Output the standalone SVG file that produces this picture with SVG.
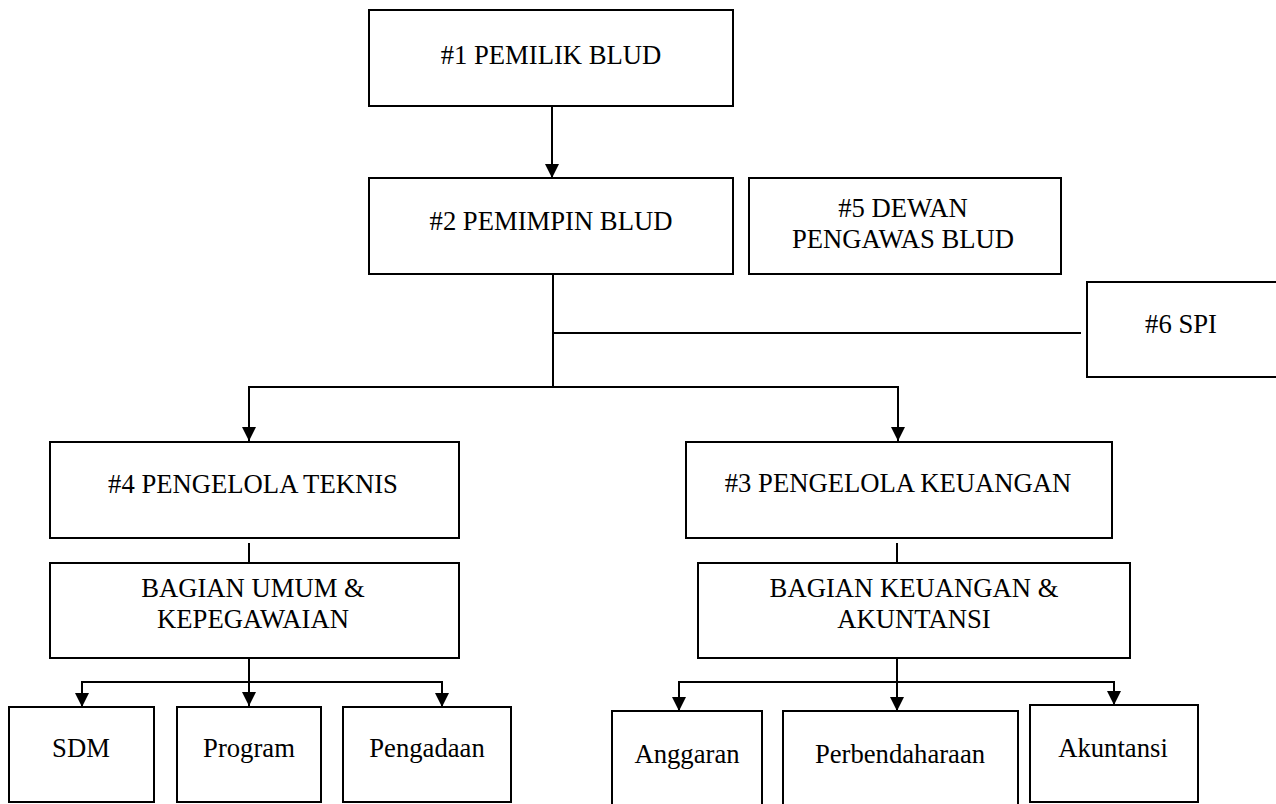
<svg xmlns="http://www.w3.org/2000/svg" width="1276" height="804" viewBox="0 0 1276 804">
  <defs>
    <style>
      .box { fill: #ffffff; stroke: #000000; stroke-width: 2; }
      .lbl { font-family: 'Liberation Serif', 'DejaVu Serif', serif; font-size: 26.67px; fill: #000000; text-anchor: middle; }
      .con { fill: none; stroke: #000000; stroke-width: 2; }
    </style>
    <marker id="arr" markerUnits="userSpaceOnUse" markerWidth="14" markerHeight="14" viewBox="0 0 14 14" refX="14" refY="7" orient="auto">
      <path d="M0,0 L14,7 L0,14 Z" fill="#000000"/>
    </marker>
  </defs>
  <rect width="1276" height="804" fill="#ffffff"/>

  <g id="connectors">
    <path class="con" d="M552,107 V178" marker-end="url(#arr)"/>
    <path class="con" d="M553,274 V387"/>
    <path class="con" d="M553,333 H1081"/>
    <path class="con" d="M248,387 H899"/>
    <path class="con" d="M249,387 V441" marker-end="url(#arr)"/>
    <path class="con" d="M898,387 V441" marker-end="url(#arr)"/>
    <path class="con" d="M249,543 V563"/>
    <path class="con" d="M897,543 V563"/>
    <path class="con" d="M249,658 V706" marker-end="url(#arr)"/>
    <path class="con" d="M81,682 H443"/>
    <path class="con" d="M82,682 V707" marker-end="url(#arr)"/>
    <path class="con" d="M442,682 V707" marker-end="url(#arr)"/>
    <path class="con" d="M897,658 V711" marker-end="url(#arr)"/>
    <path class="con" d="M678,682 H1115"/>
    <path class="con" d="M679,682 V711" marker-end="url(#arr)"/>
    <path class="con" d="M1114,682 V705" marker-end="url(#arr)"/>
  </g>

  <g font-family="Liberation Serif, DejaVu Serif, serif">
  <g id="n1"><rect class="box" x="369" y="10" width="364" height="96"/><text class="lbl" font-family="Liberation Serif, serif" x="551" y="64">#1 PEMILIK BLUD</text></g>
  <g id="n2"><rect class="box" x="369" y="178" width="364" height="96"/><text class="lbl" font-family="Liberation Serif, serif" x="551" y="230">#2 PEMIMPIN BLUD</text></g>
  <g id="n5"><rect class="box" x="749" y="178" width="312" height="96"/><text class="lbl" font-family="Liberation Serif, serif" x="903" y="217">#5 DEWAN</text><text class="lbl" font-family="Liberation Serif, serif" x="903" y="248">PENGAWAS BLUD</text></g>
  <g id="n6"><rect class="box" x="1087" y="282" width="200" height="95"/><text class="lbl" font-family="Liberation Serif, serif" x="1181" y="333">#6 SPI</text></g>
  <g id="n4"><rect class="box" x="50" y="442" width="409" height="96"/><text class="lbl" font-family="Liberation Serif, serif" x="253" y="493">#4 PENGELOLA TEKNIS</text></g>
  <g id="n3"><rect class="box" x="686" y="442" width="426" height="96"/><text class="lbl" font-family="Liberation Serif, serif" x="898" y="492">#3 PENGELOLA KEUANGAN</text></g>
  <g id="bagian-umum"><rect class="box" x="50" y="563" width="409" height="95"/><text class="lbl" font-family="Liberation Serif, serif" x="253" y="597">BAGIAN UMUM &amp;</text><text class="lbl" font-family="Liberation Serif, serif" x="253" y="628">KEPEGAWAIAN</text></g>
  <g id="bagian-keuangan"><rect class="box" x="698" y="563" width="432" height="95"/><text class="lbl" font-family="Liberation Serif, serif" x="914" y="597">BAGIAN KEUANGAN &amp;</text><text class="lbl" font-family="Liberation Serif, serif" x="914" y="628">AKUNTANSI</text></g>
  <g id="sdm"><rect class="box" x="9" y="707" width="145" height="95"/><text class="lbl" font-family="Liberation Serif, serif" x="81" y="757">SDM</text></g>
  <g id="program"><rect class="box" x="177" y="707" width="144" height="95"/><text class="lbl" font-family="Liberation Serif, serif" x="249" y="757">Program</text></g>
  <g id="pengadaan"><rect class="box" x="343" y="707" width="168" height="95"/><text class="lbl" font-family="Liberation Serif, serif" x="427" y="757">Pengadaan</text></g>
  <g id="anggaran"><rect class="box" x="612" y="711" width="150" height="100"/><text class="lbl" font-family="Liberation Serif, serif" x="687" y="763">Anggaran</text></g>
  <g id="perbendaharaan"><rect class="box" x="783" y="711" width="235" height="100"/><text class="lbl" font-family="Liberation Serif, serif" x="900" y="763">Perbendaharaan</text></g>
  <g id="akuntansi"><rect class="box" x="1030" y="705" width="168" height="97"/><text class="lbl" font-family="Liberation Serif, serif" x="1113" y="757">Akuntansi</text></g>
  </g>
</svg>
